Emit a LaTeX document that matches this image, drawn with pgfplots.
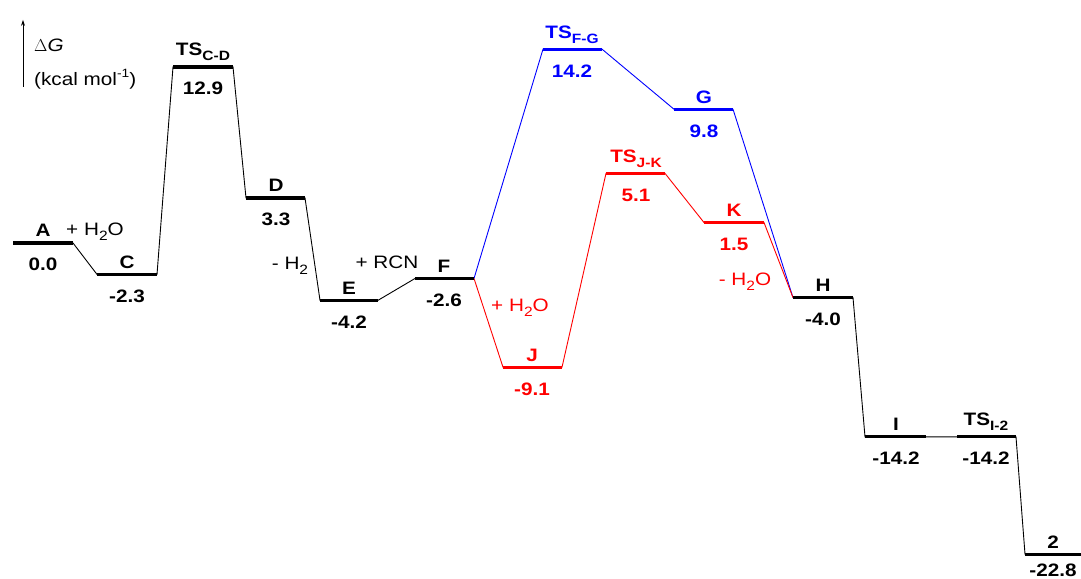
\documentclass[border=0pt]{standalone}
\usepackage{fontspec}
\setmainfont{Liberation Sans}[FakeStretch=1.15]
\usepackage{pgfplots}
\pgfplotsset{compat=1.18}
\usetikzlibrary{arrows.meta}
\definecolor{myblue}{RGB}{0,0,255}
\definecolor{myred}{RGB}{255,0,0}
\newcommand{\fs}{\fontsize{18}{20}\selectfont}
\newcommand{\sub}[1]{\raisebox{-0.28em}{\fontsize{13.5}{14}\selectfont #1}}
\newcommand{\sups}[1]{\raisebox{0.45em}{\fontsize{12}{13}\selectfont #1}}
\newcommand{\lab}[6][6pt]{%
  \node[anchor=base, text=#6, font=\fs\bfseries, inner sep=0pt, yshift=#1] at (axis cs:#2,#3) {#4};
  \node[anchor=base, text=#6, font=\fs\bfseries, inner sep=0pt, yshift=-28pt] at (axis cs:#2,#3) {#5};
}
\begin{document}
\begin{tikzpicture}[font=\fs]
\begin{axis}[hide axis, scale only axis, width=1081pt, height=578pt,
  xmin=0, xmax=1081, ymin=-24.542, ymax=17.802, clip=false,
  at={(0,0)}, anchor=south west]
\coordinate (sw) at (rel axis cs:0,0);
\coordinate (ne) at (rel axis cs:1,1);
% thin connectors
\addplot[black, line width=0.9pt] coordinates {(13,0)(73,0)(97,-2.3)(157,-2.3)(173,12.9)(233,12.9)(246,3.3)(305,3.3)(320,-4.2)(378,-4.2)(415,-2.6)(474,-2.6)};
\addplot[black, line width=0.9pt] coordinates {(793,-4.0)(853,-4.0)(865,-14.2)(926,-14.2)(957,-14.2)(1016,-14.2)(1025,-22.8)(1081,-22.8)};
\addplot[myblue, line width=0.9pt] coordinates {(474,-2.6)(543,14.2)(602,14.2)(674,9.8)(733,9.8)(793,-4.0)};
\addplot[myred, line width=0.9pt] coordinates {(474,-2.6)(503,-9.1)(562,-9.1)(606,5.1)(665,5.1)(704,1.5)(764,1.5)(793,-4.0)};
% thick levels
\addplot[black, line width=3.3pt, unbounded coords=jump] coordinates {
(13,0)(73,0)(80,nan)
(97,-2.3)(157,-2.3)(160,nan)
(173,12.9)(233,12.9)(240,nan)
(246,3.3)(305,3.3)(310,nan)
(320,-4.2)(378,-4.2)(400,nan)
(415,-2.6)(474,-2.6)(480,nan)
(793,-4.0)(853,-4.0)(860,nan)
(865,-14.2)(926,-14.2)(940,nan)
(957,-14.2)(1016,-14.2)(1020,nan)
(1025,-22.8)(1081,-22.8)};
\addplot[myblue, line width=3.3pt, unbounded coords=jump] coordinates {
(543,14.2)(602,14.2)(640,nan)
(674,9.8)(733,9.8)};
\addplot[myred, line width=3.3pt, unbounded coords=jump] coordinates {
(503,-9.1)(562,-9.1)(580,nan)
(606,5.1)(665,5.1)(680,nan)
(704,1.5)(764,1.5)};
% labels
\lab{43}{0}{A}{0.0}{black}
\lab{127}{-2.3}{C}{-2.3}{black}
\lab[11pt]{203}{12.9}{TS\sub{C-D}}{12.9}{black}
\lab{276}{3.3}{D}{3.3}{black}
\lab{349}{-4.2}{E}{-4.2}{black}
\lab{444}{-2.6}{F}{-2.6}{black}
\lab[11pt]{572}{14.2}{TS\sub{F-G}}{14.2}{myblue}
\lab{704}{9.8}{G}{9.8}{myblue}
\lab{532}{-9.1}{J}{-9.1}{myred}
\lab[11pt]{636}{5.1}{TS\sub{J-K}}{5.1}{myred}
\lab{734}{1.5}{K}{1.5}{myred}
\lab{823}{-4.0}{H}{-4.0}{black}
\lab{896}{-14.2}{I}{-14.2}{black}
\lab[11pt]{986}{-14.2}{TS\sub{I-2}}{-14.2}{black}
\node[anchor=base, font=\fs\bfseries, inner sep=0pt, yshift=6pt] at (axis cs:1053,-22.8) {2};
\node[anchor=base, font=\fs\bfseries, inner sep=0pt, yshift=-22pt] at (axis cs:1053,-22.8) {-22.8};
% annotations
\node[anchor=center, font=\fs] at (axis cs:95,0.81) {+ H\sub{2}O};
\node[anchor=center, font=\fs] at (axis cs:290,-1.7) {- H\sub{2}};
\node[anchor=center, font=\fs] at (axis cs:387,-1.39) {+ RCN};
\node[anchor=center, font=\fs, text=myred] at (axis cs:520,-4.76) {+ H\sub{2}O};
\node[anchor=center, font=\fs, text=myred] at (axis cs:745,-2.86) {- H\sub{2}O};
% axis arrow and label
\draw[line width=0.8pt, -{Stealth[length=6pt,width=4pt]}] (axis cs:23,11.43) -- (axis cs:23,16.34);
\node[anchor=west, inner sep=0pt, font=\fs] at (axis cs:34,14.5) {$\Delta$\textit{G}};
\node[anchor=west, inner sep=0pt, font=\fs] at (axis cs:34,12.0) {(kcal mol\sups{-1})};
\end{axis}
\pgfresetboundingbox
\path (sw) rectangle (ne);
\end{tikzpicture}
\end{document}
